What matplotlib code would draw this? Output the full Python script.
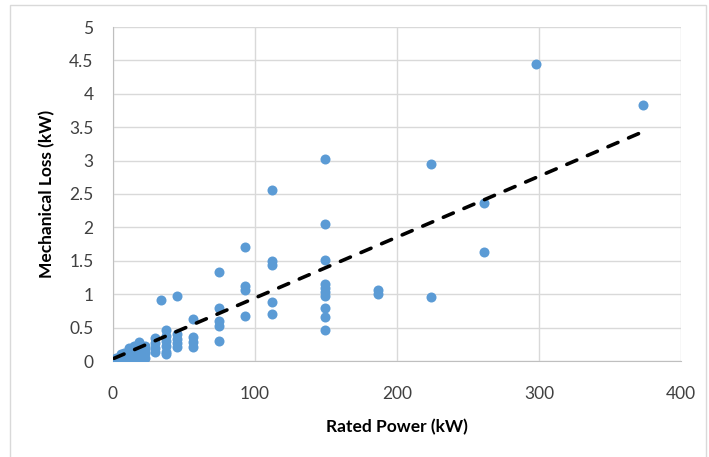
import numpy as np
import matplotlib.pyplot as plt
from matplotlib.patches import Rectangle

plt.rcParams['font.family'] = ['Lato', 'DejaVu Sans']

# Rated power (kW) and mechanical loss (kW)
rated_power = [
    0.75, 1.5, 2.2, 3.7,
    5.6, 5.6,
    7.5, 7.5, 7.5,
    11.2, 11.2, 11.2, 11.2,
    14.9, 14.9, 14.9, 14.9,
    18.6, 18.6, 18.6, 18.6, 18.6,
    22.4, 22.4, 22.4, 22.4,
    29.8, 29.8, 29.8, 29.8,
    34,
    37.3, 37.3, 37.3, 37.3, 37.3, 37.3,
    44.8, 44.8, 44.8, 44.8, 44.8,
    56, 56, 56, 56,
    74.6, 74.6, 74.6, 74.6, 74.6,
    93.2, 93.2, 93.2, 93.2,
    112, 112, 112, 112, 112,
    149, 149, 149, 149, 149, 149, 149, 149, 149, 149,
    186.5, 186.5,
    224, 224,
    261, 261,
    298,
    373,
]
mech_loss = [
    0.02, 0.03, 0.04, 0.05,
    0.07, 0.10,
    0.06, 0.09, 0.12,
    0.05, 0.10, 0.15, 0.20,
    0.06, 0.12, 0.18, 0.22,
    0.05, 0.10, 0.17, 0.24, 0.29,
    0.05, 0.12, 0.18, 0.22,
    0.14, 0.20, 0.27, 0.34,
    0.91,
    0.10, 0.14, 0.22, 0.30, 0.37, 0.46,
    0.97, 0.21, 0.27, 0.33, 0.40,
    0.63, 0.36, 0.29, 0.21,
    1.33, 0.79, 0.60, 0.53, 0.30,
    1.71, 1.12, 1.07, 0.67,
    2.56, 1.50, 1.44, 0.89, 0.70,
    3.03, 2.05, 1.51, 1.15, 1.09, 1.03, 0.97, 0.80, 0.66, 0.46,
    1.07, 1.01,
    2.95, 0.96,
    2.36, 1.63,
    4.44,
    3.83,
]

# linear trendline end points
trend_x = [0.75, 373]
trend_y = [0.04, 3.43]

x_ticks = [0, 100, 200, 300, 400]
y_ticks = [0, 0.5, 1, 1.5, 2, 2.5, 3, 3.5, 4, 4.5, 5]

fig = plt.figure(figsize=(7.09, 4.57), dpi=100)
ax = fig.add_axes([113 / 709, 1 - 361 / 457, 568 / 709, 334 / 457])

ax.scatter(rated_power, mech_loss, s=52, color='#5B9BD5', zorder=3, linewidths=0)
ax.plot(trend_x, trend_y, color='black', lw=2.6, dashes=(3.0, 3.2),
        dash_capstyle='round', zorder=4)

ax.set_xlim(0, 400)
ax.set_ylim(0, 5)
ax.set_xticks(x_ticks)
ax.set_yticks(y_ticks)
ax.set_yticklabels([f'{v:g}' for v in y_ticks])
ax.grid(True, color='#D9D9D9', lw=1)
ax.set_axisbelow(True)
ax.tick_params(length=0, labelsize=12.5, colors='#404040', pad=14)
ax.tick_params(axis='x', pad=18)

for side in ['top', 'right']:
    ax.spines[side].set_visible(False)
for side in ['left', 'bottom']:
    ax.spines[side].set_color('#BFBFBF')

ax.set_xlabel('Rated Power (kW)', fontsize=12.5, fontweight='bold', labelpad=12)
ax.set_ylabel('Mechanical Loss (kW)', fontsize=12.5, fontweight='bold', labelpad=10)

# chart border
fig.patches.append(Rectangle((10 / 709, -0.1), 696 / 709, 1.1 - 5 / 457,
                             transform=fig.transFigure, fill=False,
                             edgecolor='#D9D9D9', lw=1))

plt.savefig('out.png', dpi=100)
